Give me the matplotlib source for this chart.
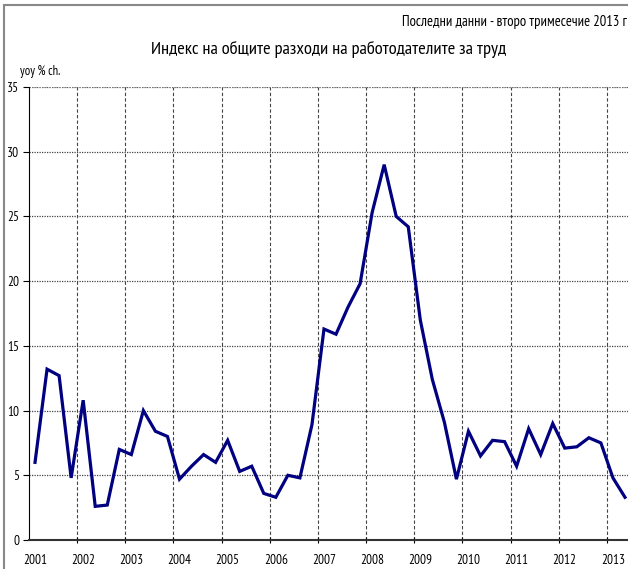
import numpy as np
import matplotlib.pyplot as plt
from matplotlib.patches import Rectangle

plt.rcParams['font.family'] = ['PT Sans Narrow', 'DejaVu Sans']

years = [str(y) for y in range(2001, 2014)]
# quarterly yoy % change, 2001 Q1 .. 2013 Q2
values = [6.0, 13.2, 12.7, 4.8, 10.8, 2.6, 2.7, 7.0,
          6.6, 10.0, 8.4, 8.0, 4.7, 5.7, 6.6, 6.0,
          7.7, 5.3, 5.7, 3.6, 3.3, 5.0, 4.8, 8.9,
          16.3, 15.9, 18.0, 19.8, 25.3, 29.0, 25.0, 24.2,
          17.0, 12.4, 9.1, 4.7, 8.4, 6.5, 7.7, 7.6,
          5.7, 8.6, 6.6, 9.0, 7.1, 7.2, 7.9, 7.5,
          4.8, 3.3]

x = np.arange(len(values))

fig = plt.figure(figsize=(6.28, 5.69), dpi=100)
W, H = 628, 569
left, right, top, bottom = 29, 631, 87, 540
ax = fig.add_axes([left / W, 1 - bottom / H, (right - left) / W, (bottom - top) / H])

ax.plot(x, values, color='#000080', lw=2.3, solid_joinstyle='miter')

ax.set_xlim(-0.5, len(values) - 0.5)
ax.set_ylim(0, 35)
ax.set_yticks(range(0, 36, 5))
ax.tick_params(axis='y', labelsize=9.5, length=4, direction='out', width=0.8, pad=3)

# year boundaries as major ticks, labels under first quarter
bounds = np.arange(3.5, len(values), 4)
ax.set_xticks(bounds)
ax.set_xticklabels([])
ax.tick_params(axis='x', length=4, direction='inout', width=0.8)
for i, yr in enumerate(years):
    ax.text(i * 4, -1.1, yr, ha='center', va='top', fontsize=9.5)

ax.grid(axis='y', color='#444444', ls=(0, (1, 1)), lw=0.9)
ax.grid(axis='x', color='#444444', ls=(0, (3, 2)), lw=0.8)
ax.axhline(35, color='#999999', lw=1.2, ls=(0, (1, 1)))

ax.spines['right'].set_visible(False)
ax.spines['top'].set_visible(False)
ax.spines['left'].set_color('black')
ax.spines['bottom'].set_color('#333333')
ax.spines['bottom'].set_linewidth(1.5)

fig.text(627 / W, 1 - 22 / H, 'Последни данни - второ тримесечие 2013 г', ha='right', va='center', fontsize=10.5)
fig.text(329 / W, 1 - 49 / H, 'Индекс на общите разходи на работодателите за труд', ha='center', va='center', fontsize=13.3)
fig.text(20 / W, 1 - 71 / H, 'yoy % ch.', ha='left', va='center', fontsize=9)

fig.patches.append(Rectangle((4 / W, -0.05), 1.1, 1 - 5 / H + 0.05, transform=fig.transFigure,
                             fill=False, edgecolor='#888888', lw=1.5))

fig.savefig('out.png', dpi=100)
